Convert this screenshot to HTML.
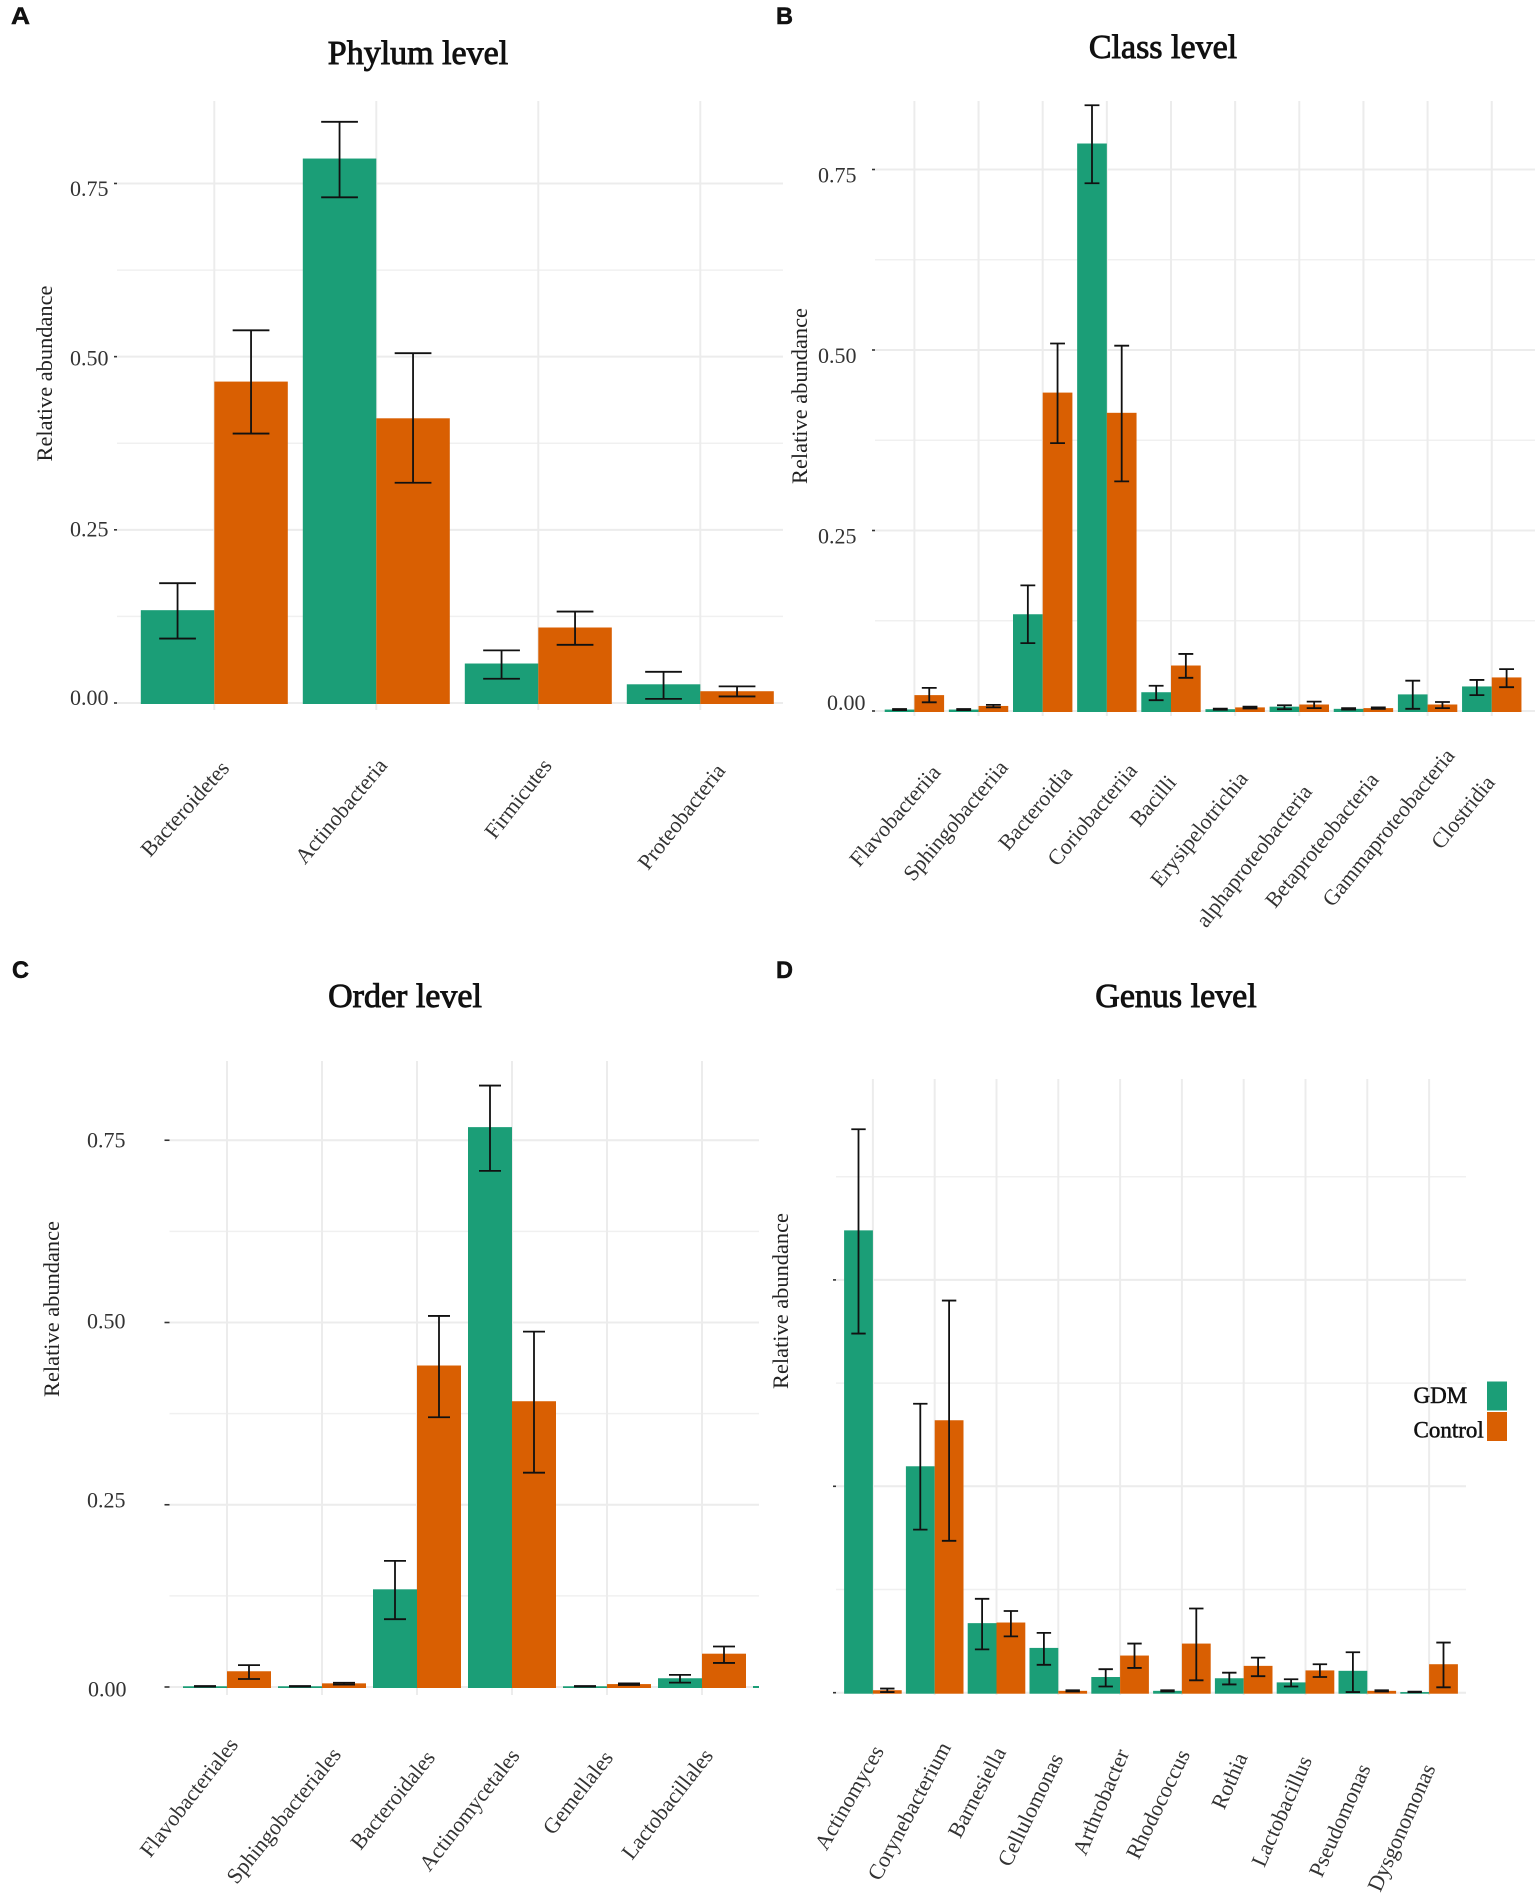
<!DOCTYPE html>
<html lang="en">
<head>
<meta charset="utf-8">
<title>Relative abundance by taxonomic level</title>
<style>
html,body{margin:0;padding:0;background:#fff;width:1535px;height:1899px;overflow:hidden}
svg{display:block;font-family:"Liberation Serif",serif}
.panel-letter{font-family:"Liberation Sans",sans-serif;font-weight:700;font-size:24px;fill:#111;stroke:#111;stroke-width:.5px}
.title{font-size:34px;fill:#111;stroke:#111;stroke-width:.9px;text-anchor:middle}
.ytitle{font-size:22.4px;fill:#222;text-anchor:middle}
.ytick{font-size:22px;fill:#333}
.xtick{font-size:22px;fill:#333;text-anchor:end}
.legend-text{font-size:23px;fill:#111;stroke:#111;stroke-width:.5px}
</style>
</head>
<body>
<svg id="chart" width="1535" height="1899" viewBox="0 0 1535 1899" xmlns="http://www.w3.org/2000/svg">
<rect width="1535" height="1899" fill="#ffffff"/>
</svg>
<script>
var majorTicks = [0, 0.25, 0.5, 0.75];
var majorTickLabels = ["0.00", "0.25", "0.50", "0.75"];
var minorTicks = [0.125, 0.375, 0.625];
var genusMajorTicks = [0, 0.1, 0.2];
var genusTickLabels = [];
var genusMinorTicks = [0.05, 0.15, 0.25];

var phylumCategories = ["Bacteroidetes", "Actinobacteria", "Firmicutes", "Proteobacteria"];
var phylumGdm = [0.134, 0.786, 0.057, 0.027];
var phylumGdmLow = [0.093, 0.730, 0.035, 0.006];
var phylumGdmHigh = [0.173, 0.839, 0.076, 0.045];
var phylumControl = [0.464, 0.411, 0.109, 0.017];
var phylumControlLow = [0.389, 0.318, 0.084, 0.0095];
var phylumControlHigh = [0.538, 0.505, 0.132, 0.024];

var classCategories = ["Flavobacteriia", "Sphingobacteriia", "Bacteroidia", "Coriobacteriia", "Bacilli", "Erysipelotrichia", "alphaproteobacteria", "Betaproteobacteria", "Gammaproteobacteria", "Clostridia"];
var classGdm = [0.002, 0.002, 0.134, 0.786, 0.026, 0.0025, 0.006, 0.003, 0.023, 0.034];
var classGdmLow = [0.0012, 0.0012, 0.094, 0.731, 0.015, 0.0018, 0.0025, 0.002, 0.003, 0.022];
var classGdmHigh = [0.0028, 0.0028, 0.174, 0.839, 0.035, 0.0032, 0.008, 0.004, 0.042, 0.043];
var classControl = [0.022, 0.007, 0.441, 0.413, 0.063, 0.005, 0.009, 0.004, 0.009, 0.0465];
var classControlLow = [0.012, 0.005, 0.371, 0.318, 0.046, 0.0035, 0.004, 0.003, 0.004, 0.033];
var classControlHigh = [0.032, 0.0085, 0.509, 0.506, 0.079, 0.006, 0.013, 0.005, 0.0125, 0.058];

var orderCategories = ["Flavobacteriales", "Sphingobacteriales", "Bacteroidales", "Actinomycetales", "Gemellales", "Lactobacillales"];
var orderGdm = [0.001, 0.001, 0.134, 0.768, 0.001, 0.012];
var orderGdmLow = [0.0006, 0.0006, 0.093, 0.708, 0.0006, 0.006];
var orderGdmHigh = [0.0014, 0.0014, 0.173, 0.825, 0.0014, 0.0166];
var orderControl = [0.0216, 0.005, 0.441, 0.392, 0.004, 0.0457];
var orderControlLow = [0.011, 0.0033, 0.370, 0.294, 0.0028, 0.033];
var orderControlHigh = [0.030, 0.0058, 0.509, 0.4875, 0.005, 0.0556];

var genusCategories = ["Actinomyces", "Corynebacterium", "Barnesiella", "Cellulomonas", "Arthrobacter", "Rhodococcus", "Rothia", "Lactobacillus", "Pseudomonas", "Dysgonomonas"];
var genusGdm = [0.224, 0.1097, 0.0337, 0.0217, 0.0076, 0.0009, 0.007, 0.005, 0.0106, 0.0003];
var genusGdmLow = [0.174, 0.079, 0.021, 0.0135, 0.003, 0.0006, 0.004, 0.003, 0.0003, 0.0002];
var genusGdmHigh = [0.273, 0.140, 0.0455, 0.029, 0.0114, 0.0012, 0.0097, 0.0065, 0.0196, 0.0005];
var genusControl = [0.0012, 0.132, 0.034, 0.0009, 0.018, 0.0238, 0.013, 0.0108, 0.0009, 0.0138];
var genusControlLow = [0.0003, 0.0736, 0.0273, 0.0006, 0.012, 0.006, 0.008, 0.0076, 0.0006, 0.0026];
var genusControlHigh = [0.002, 0.190, 0.0396, 0.0012, 0.0238, 0.0408, 0.017, 0.0138, 0.0012, 0.0243];

var legendLabels = ["GDM", "Control"];

var GREEN = "#1b9e77", ORANGE = "#d95f02";
var NS = "http://www.w3.org/2000/svg";
var svg = document.getElementById("chart");

function make(tag, attrs, parent) {
  var el = document.createElementNS(NS, tag);
  for (var k in attrs) el.setAttribute(k, attrs[k]);
  (parent || svg).appendChild(el);
  return el;
}

function drawPanel(p, d) {
  var g = make("g", {});
  
  

  function yScale(v) { return p.y0 - v * p.pxPerUnit; }
  function xScale(i) { return p.x0 + i * p.step; }

  var letter = make("text", {x: p.letterX, y: p.letterY, "class": "panel-letter", textLength: p.letterW, lengthAdjust: "spacingAndGlyphs"}, g);
  letter.textContent = p.letter;
  
  

  var title = make("text", {x: p.titleX, y: p.titleY, "class": "title"}, g);
  title.textContent = p.title;
  
  

  var yt = make("text", {"class": "ytitle", transform: "translate(" + p.yTitleX + "," + p.yTitleY + ") rotate(-90)"}, g);
  yt.textContent = "Relative abundance";
  
  

  d.minor.forEach(function (v) {
    var line = make("line", {x1: p.left, x2: p.right, y1: yScale(v), y2: yScale(v), stroke: "#f0f0f0", "stroke-width": 1.5}, g);
    
    
  });
  d.major.forEach(function (v, i) {
    var line = make("line", {x1: p.left, x2: p.right, y1: yScale(v), y2: yScale(v), stroke: "#ececec", "stroke-width": 2}, g);
    
    
    var tick = make("line", {x1: p.left - p.tickLen, x2: p.left, y1: yScale(v), y2: yScale(v), stroke: "#333", "stroke-width": 1.6}, g);
    
    
    if (d.majorLabels[i] !== undefined) {
      var t = make("text", {x: p.tickLabelX + (v === 0 ? p.zeroDx : 0), y: yScale(v) + p.tickNudge[i], "class": "ytick"}, g);
      t.textContent = d.majorLabels[i];
      
      
    }
  });

  d.categories.forEach(function (c, i) {
    var x = xScale(i);
    var line = make("line", {x1: x, x2: x, y1: p.top, y2: p.bottom, stroke: "#ececec", "stroke-width": 2}, g);
    
    
  });

  d.categories.forEach(function (c, i) {
    var x = xScale(i);
    var gdmBar = make("rect", {x: x - p.barW, y: yScale(d.gdm[i]), width: p.barW, height: p.y0 + 1 - yScale(d.gdm[i]), fill: GREEN}, g);
    
    
    var ctlBar = make("rect", {x: x, y: yScale(d.control[i]), width: p.barW, height: p.y0 + 1 - yScale(d.control[i]), fill: ORANGE}, g);
    
    
  });

  function errorBar(cx, low, high, name) {
    var eb = make("path", {
      d: "M" + (cx - p.barW / 4) + " " + yScale(high) + "H" + (cx + p.barW / 4) +
         "M" + cx + " " + yScale(high) + "V" + yScale(low) +
         "M" + (cx - p.barW / 4) + " " + yScale(low) + "H" + (cx + p.barW / 4),
      fill: "none", stroke: "#111", "stroke-width": 1.8
    }, g);
    
    
  }
  d.categories.forEach(function (c, i) {
    var x = xScale(i);
    errorBar(x - p.barW / 2, d.gdmLow[i], d.gdmHigh[i], p.key + '-error-bar-gdm');
    errorBar(x + p.barW / 2, d.controlLow[i], d.controlHigh[i], p.key + '-error-bar-control');
  });

  d.categories.forEach(function (c, i) {
    var ex = xScale(i) + p.labelDx[i];
    var ey = p.labelTop[i] + p.labelDrop;
    var t = make("text", {"class": "xtick", transform: "translate(" + ex + "," + ey + ") rotate(" + (-p.angles[i]) + ")"}, g);
    t.textContent = c;
    
    
  });
}

drawPanel({
  key: "phylum", letter: "A", letterX: 11, letterY: 24, letterW: 19, title: "Phylum level", titleX: 418, titleY: 64,
  yTitleX: 52, yTitleY: 373.5, left: 117, right: 783, top: 101, bottom: 710,
  x0: 214.3, step: 162, barW: 73.5, y0: 703, pxPerUnit: 692.7, tickLen: 3,
  tickLabelX: 70, zeroDx: 0, tickNudge: [2, 6.6, 9, 12.5],
  labelDx: [16, 12, 14.5, 26], labelTop: [759, 756, 756, 761], labelDrop: 10,
  angles: [48, 50, 52, 52]
}, {
  categories: phylumCategories, gdm: phylumGdm, gdmLow: phylumGdmLow, gdmHigh: phylumGdmHigh,
  control: phylumControl, controlLow: phylumControlLow, controlHigh: phylumControlHigh,
  major: majorTicks, majorLabels: majorTickLabels, minor: minorTicks
});

drawPanel({
  key: "class", letter: "B", letterX: 776, letterY: 24, letterW: 17, title: "Class level", titleX: 1163, titleY: 58,
  yTitleX: 807, yTitleY: 396, left: 875, right: 1535, top: 101, bottom: 716,
  x0: 914.4, step: 64.15, barW: 29.7, y0: 711, pxPerUnit: 722, tickLen: 3,
  tickLabelX: 818, zeroDx: 9, tickNudge: [-1, 13, 13, 13],
  labelDx: [27.3, 30.5, 30.7, 31.4, 6.3, 13.8, 13.7, 16.3, 28, 4.1],
  labelTop: [763, 758, 764, 761, 773, 769, 782, 770, 746, 773], labelDrop: 10,
  angles: [49, 50, 50, 50, 50, 51, 52, 51, 51, 51]
}, {
  categories: classCategories, gdm: classGdm, gdmLow: classGdmLow, gdmHigh: classGdmHigh,
  control: classControl, controlLow: classControlLow, controlHigh: classControlHigh,
  major: majorTicks, majorLabels: majorTickLabels, minor: minorTicks
});

drawPanel({
  key: "order", letter: "C", letterX: 12, letterY: 978, letterW: 17, title: "Order level", titleX: 405, titleY: 1007,
  yTitleX: 59, yTitleY: 1309, left: 169.5, right: 759, top: 1061, bottom: 1695,
  x0: 227, step: 95, barW: 44, y0: 1687, pxPerUnit: 729, tickLen: 5,
  tickLabelX: 87, zeroDx: 1, tickNudge: [9.3, 2.5, 6, 7],
  labelDx: [12, 20, 19, 8.5, 7, 12], labelTop: [1735, 1745, 1748, 1746, 1748, 1746], labelDrop: 10,
  angles: [52, 51, 51, 52, 52, 52]
}, {
  categories: orderCategories, gdm: orderGdm, gdmLow: orderGdmLow, gdmHigh: orderGdmHigh,
  control: orderControl, controlLow: orderControlLow, controlHigh: orderControlHigh,
  major: majorTicks, majorLabels: majorTickLabels, minor: minorTicks
});

var orderDash = make("line", {x1: 753, x2: 759, y1: 1687, y2: 1687, stroke: GREEN, "stroke-width": 2});



drawPanel({
  key: "genus", letter: "D", letterX: 776, letterY: 978, letterW: 17, title: "Genus level", titleX: 1176, titleY: 1007,
  yTitleX: 788, yTitleY: 1301, left: 836, right: 1466, top: 1079, bottom: 1695,
  x0: 872.9, step: 61.8, barW: 28.8, y0: 1692.7, pxPerUnit: 2064, tickLen: 3,
  tickLabelX: 0, zeroDx: 0, tickNudge: [0, 0, 0],
  labelDx: [11.7, 16.8, 10.1, 5.4, 9.4, 8.6, 4.3, 6.9, 3.7, 6.8],
  labelTop: [1743, 1739, 1744, 1750, 1745, 1746, 1749, 1752, 1760, 1760], labelDrop: 8,
  angles: [60, 62, 62, 64, 67, 64, 66, 66, 66, 66]
}, {
  categories: genusCategories, gdm: genusGdm, gdmLow: genusGdmLow, gdmHigh: genusGdmHigh,
  control: genusControl, controlLow: genusControlLow, controlHigh: genusControlHigh,
  major: genusMajorTicks, majorLabels: genusTickLabels, minor: genusMinorTicks
});

var legend = make("g", {});


[GREEN, ORANGE].forEach(function (color, i) {
  var sw = make("rect", {x: 1487, y: 1381.5 + i * 30.5, width: 20, height: 29, fill: color}, legend);
  
  
  var t = make("text", {x: 1413.5, y: 1403 + i * 34.5, "class": "legend-text"}, legend);
  t.textContent = legendLabels[i];
  
  
});
</script>
</body>
</html>
